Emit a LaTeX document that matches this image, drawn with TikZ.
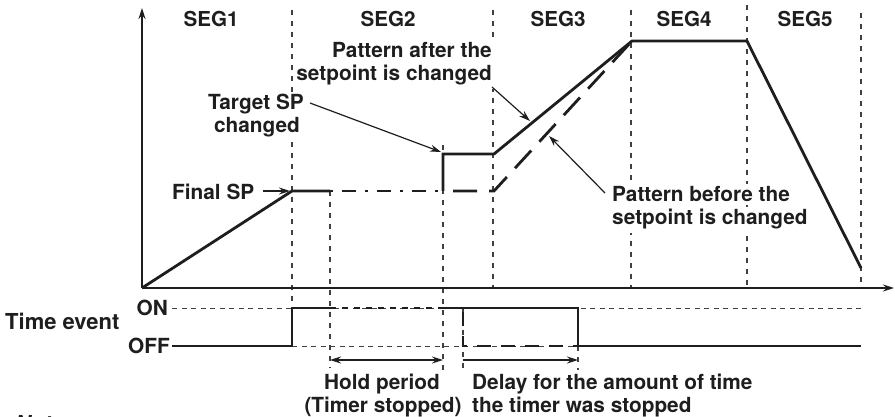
\documentclass[tikz,border=0pt]{standalone}
\usepackage{fontspec}
\setmainfont{TeX Gyre Heros}
\usetikzlibrary{arrows.meta}
\definecolor{ink}{HTML}{1E1E1E}
\begin{document}
\begin{tikzpicture}[x=1pt,y=-1pt,
  lbl/.style={font=\fontsize{20.8}{23}\selectfont\bfseries, text=ink, inner xsep=3pt, inner ysep=3pt, fill=white},
  seglbl/.style={lbl, font=\fontsize{20.6}{23}\selectfont\bfseries},
  guide/.style={line width=1.1pt, draw=ink!85, dash pattern=on 5pt off 6pt},
  hguide/.style={line width=1pt, draw=ink!85, dash pattern=on 5pt off 4.5pt},
  curve/.style={line width=2.8pt, draw=ink, line join=miter},
  before/.style={line width=2.8pt, draw=ink, dash pattern=on 24pt off 12pt, dash phase=-10pt},
  dashdot/.style={line width=2.8pt, draw=ink, dash pattern=on 3pt off 9pt on 14pt off 9pt},
  axis/.style={line width=1.4pt, draw=ink, -{Stealth[length=11pt,width=7pt]}},
  note/.style={line width=1.2pt, draw=ink, -{Stealth[length=11pt,width=7pt]}},
  span/.style={line width=1.2pt, draw=ink, {Stealth[length=11pt,width=7pt]}-{Stealth[length=11pt,width=7pt]}},
]
\useasboundingbox (0,0) rectangle (895,417);

% ---- key coordinates
\coordinate (O) at (142,288);
\coordinate (ytop) at (142,8);
\coordinate (xend) at (894,288);
\coordinate (fsp) at (292,191);
\coordinate (hold) at (330,191);
\coordinate (tchg) at (443,191);
\coordinate (tchgU) at (443,154);
\coordinate (s3) at (494,154);
\coordinate (s3b) at (494,191);
\coordinate (peak) at (632,41);
\coordinate (s5) at (747,41);
\coordinate (endp) at (861,268);

% ---- vertical guides
\draw[guide] (292,10) -- (292,308);
\draw[guide] (493,10) -- (493,288);
\draw[guide] (631,10) -- (631,288);
\draw[guide] (747,5) -- (747,288);
\draw[guide] (861,13) -- (861,288);
\draw[guide] (330,191) -- (330,368);
\draw[guide] (443,145) -- (443,372);
\draw[guide] (463,308) -- (463,372);
\draw[guide] (578,346) -- (578,370);

% ---- horizontal guides (time event)
\draw[hguide] (172,308) -- (861,308);
\draw[hguide] (292,346) -- (861,346);

% ---- labels
\node[seglbl, anchor=base] (seg1) at (211,27) {SEG1};
\node[seglbl, anchor=base] (seg2) at (388,27) {SEG2};
\node[seglbl, anchor=base] (seg3) at (558,27) {SEG3};
\node[seglbl, anchor=base] (seg4) at (684,27) {SEG4};
\node[seglbl, anchor=base] (seg5) at (805,27) {SEG5};

\node[lbl, anchor=base east] (pa1) at (495,58) {Pattern after the};
\node[lbl, anchor=base east] (pa2) at (495,81) {setpoint is changed};
\node[lbl, anchor=base] (ts1) at (256,110) {Target SP};
\node[lbl, anchor=base] (ts2) at (257,133) {changed};
\node[lbl, anchor=base west] (fs) at (169,200) {Final SP};
\node[lbl, anchor=base west] (pb1) at (609,202) {Pattern before the};
\node[lbl, anchor=base west] (pb2) at (609,225) {setpoint is changed};

\node[lbl, anchor=base west, font=\fontsize{22}{24}\selectfont\bfseries] (te) at (2,329) {Time event};
\node[lbl, anchor=base east] (on) at (171,315) {ON};
\node[lbl, anchor=base east] (off) at (173,353) {OFF};

\node[lbl, anchor=base] (hp1) at (382,389) {Hold period};
\node[lbl, anchor=base] (hp2) at (383,412) {(Timer stopped)};
\node[lbl, anchor=base west] (dl1) at (469,389) {Delay for the amount of time};
\node[lbl, anchor=base west] (dl2) at (469,412) {the timer was stopped};
\node[lbl, anchor=base west, font=\fontsize{22}{24}\selectfont\bfseries\itshape] (nt) at (12,431) {Note};

% ---- axes
\draw[axis] (O) -- (ytop);
\draw[axis] (O) -- (xend);

% ---- setpoint patterns
\draw[before] (tchg) -- (s3b) -- (peak);
\draw[curve] (O) -- (fsp) -- (hold);
\draw[dashdot] (hold) -- (tchg);
\draw[curve] (tchg) -- (tchgU) -- (s3) -- (peak) -- (s5) -- (endp);

% ---- time event signal
\coordinate (offL) at (172,346);
\coordinate (up) at (292,346);
\coordinate (upT) at (292,308);
\coordinate (hOn) at (330,308);
\coordinate (rOn) at (443,308);
\coordinate (dOn) at (463,308);
\coordinate (dOff) at (463,346);
\coordinate (fallT) at (578,308);
\coordinate (fallB) at (578,346);
\coordinate (offR) at (861,346);
\draw[curve] (offL) -- (up) -- (upT) -- (hOn);
\draw[line width=2.4pt, draw=ink, dash pattern=on 6pt off 6pt] (hOn) -- (rOn);
\draw[curve] (rOn) -- (fallT) -- (fallB) -- (offR);
\draw[line width=2.8pt, draw=ink, dash pattern=on 14pt off 10pt, dash phase=-4pt] (dOn) -- (dOff) -- (fallB);

% ---- spans
\coordinate (hA) at (330,360);
\coordinate (hB) at (443,360);
\coordinate (dA) at (463,360);
\coordinate (dB) at (578,360);
\draw[span] (hA) -- (hB);
\draw[note] (dA) -- (dB);

% ---- annotation arrows
\coordinate (fsTip) at (290,191);
\coordinate (fsStart) at (263,191);
\draw[note] (fsStart) -- (fsTip);
\coordinate (tsStart) at (310,103);
\coordinate (tsTip) at (441,152);
\draw[note] (tsStart) -- (tsTip);
\coordinate (paStart) at (492,87);
\coordinate (paTip) at (530,121);
\draw[note] (paStart) -- (paTip);
\coordinate (pbStart) at (605,193);
\coordinate (pbTip) at (549,136);
\draw[note] (pbStart) -- (pbTip);
\end{tikzpicture}
\end{document}
